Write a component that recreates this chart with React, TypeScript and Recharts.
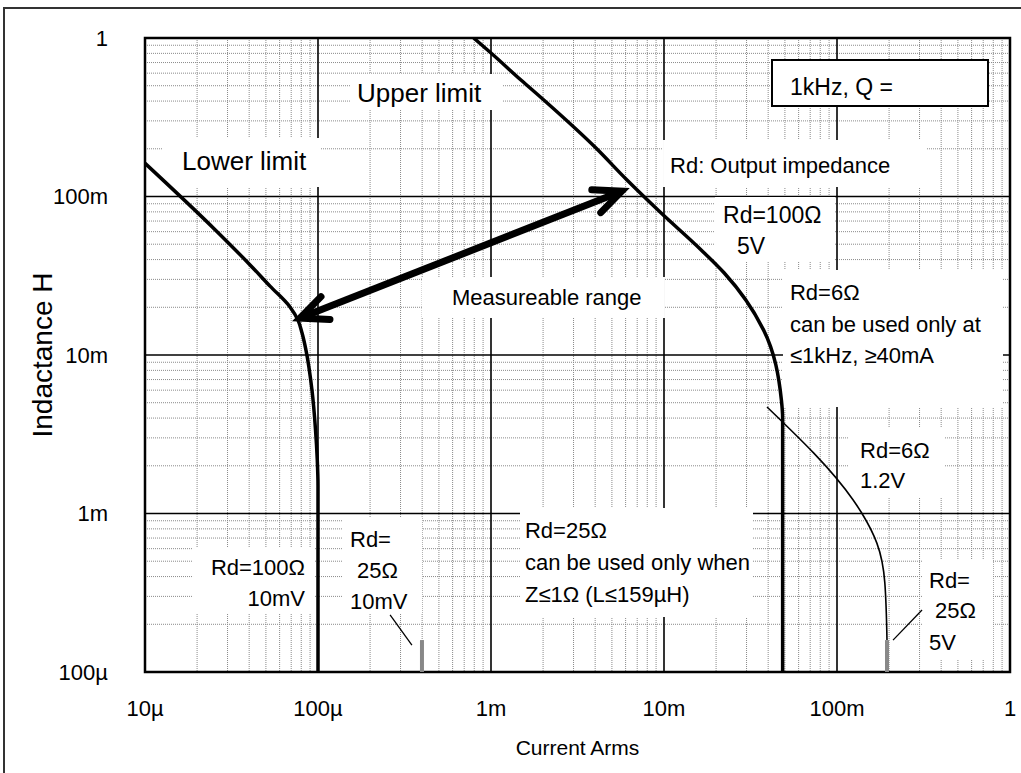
import React from "react";
import {
  ComposedChart,
  Line,
  XAxis,
  YAxis,
  CartesianGrid,
  ReferenceArea,
  ReferenceLine,
} from "recharts";

const FONT = "'Liberation Sans', Arial, sans-serif";

// axis decades and their labels
const xTicks = [1e-5, 1e-4, 1e-3, 1e-2, 1e-1, 1];
const xTickLabels = ["10µ", "100µ", "1m", "10m", "100m", "1"];
const yTicks = [1e-4, 1e-3, 1e-2, 1e-1, 1];
const yTickLabels = ["100µ", "1m", "10m", "100m", "1"];
const minorSteps = [2, 3, 4, 5, 6, 7, 8, 9];

// i = current (A), l = inductance (H)
const lowerLimit = [
  { i: 1e-5, l: 0.162 },
  { i: 2.55e-5, l: 0.0615 },
  { i: 4.05e-5, l: 0.037 },
  { i: 5.28e-5, l: 0.0272 },
  { i: 6.89e-5, l: 0.0201 },
  { i: 7.66e-5, l: 0.0166 },
  { i: 8.08e-5, l: 0.0138 },
  { i: 8.52e-5, l: 0.01075 },
  { i: 9.23e-5, l: 0.006 },
  { i: 9.67e-5, l: 0.0034 },
  { i: 9.9e-5, l: 0.0022 },
  { i: 1e-4, l: 0.0015 },
  { i: 1e-4, l: 1e-4 },
];

const upperLimit = [
  { i: 7.94e-4, l: 1 },
  { i: 1e-3, l: 0.804 },
  { i: 1.49e-3, l: 0.543 },
  { i: 2.02e-3, l: 0.406 },
  { i: 3.99e-3, l: 0.205 },
  { i: 6.11e-3, l: 0.127 },
  { i: 9.49e-3, l: 0.0798 },
  { i: 0.0164, l: 0.046 },
  { i: 0.0223, l: 0.0329 },
  { i: 0.0376, l: 0.0144 },
  { i: 0.0477, l: 0.0052 },
  { i: 0.0485, l: 0.004 },
  { i: 0.0485, l: 1e-4 },
];

const rd6Line = [
  { i: 0.0394, l: 4.7e-3 },
  { i: 0.1237, l: 1.22e-3 },
  { i: 0.1395, l: 1.0e-3 },
  { i: 0.17, l: 6.5e-4 },
  { i: 0.189, l: 3.65e-4 },
  { i: 0.1945, l: 1.59e-4 },
];

const rd25LowBar = [
  { i: 3.99e-4, l: 1.59e-4 },
  { i: 3.99e-4, l: 1e-4 },
];
const rd25HighBar = [
  { i: 0.1945, l: 1.59e-4 },
  { i: 0.1945, l: 1e-4 },
];
const leaderLeft = [
  { i: 2.61e-4, l: 2.29e-4 },
  { i: 3.49e-4, l: 1.48e-4 },
];
const leaderRight = [
  { i: 0.31, l: 2.46e-4 },
  { i: 0.2108, l: 1.59e-4 },
];

// double arrow "Measureable range"
const rangeArrow = [
  { i: 7.87e-5, l: 0.0171 },
  { i: 5.7e-3, l: 0.108 },
];

const xMinor = xTicks.slice(0, -1).flatMap((d) => minorSteps.map((m) => m * d));
const yMinor = yTicks.slice(0, -1).flatMap((d) => minorSteps.map((m) => m * d));

type TextLine = { text: string; dx: number; dy: number; anchor?: "start" | "end" | "middle" };
interface Note {
  x1: number;
  x2: number;
  y1: number;
  y2: number;
  size: number;
  border?: boolean;
  lines: TextLine[];
}

const notes: Note[] = [
  { x1: 1.531e-4, x2: 1.173e-3, y1: 0.3513, y2: 0.5927, size: 26, lines: [{ text: "Upper limit", dx: 7, dy: 28 }] },
  { x1: 1.271e-5, x2: 1.027e-4, y1: 0.1148, y2: 0.2339, size: 26, lines: [{ text: "Lower limit", dx: 19, dy: 32 }] },
  { x1: 9.87e-3, x2: 0.3313, y1: 0.1148, y2: 0.2272, size: 22, lines: [{ text: "Rd: Output impedance", dx: 7, dy: 33 }] },
  {
    x1: 0.01972, x2: 0.09737, y1: 0.03862, y2: 0.09927, size: 23,
    lines: [
      { text: "Rd=100Ω", dx: 8, dy: 26 },
      { text: "5V", dx: 22, dy: 57 },
    ],
  },
  { x1: 3.99e-4, x2: 1.013e-2, y1: 0.01712, y2: 0.03105, size: 22, lines: [{ text: "Measureable range", dx: 30, dy: 28 }] },
  {
    x1: 0.04873, x2: 0.911, y1: 4.697e-3, y2: 0.03438, size: 22,
    lines: [
      { text: "Rd=6Ω", dx: 7, dy: 30 },
      { text: "can be used only at", dx: 7, dy: 62 },
      { text: "≤1kHz, ≥40mA", dx: 7, dy: 93 },
    ],
  },
  {
    x1: 0.1158, x2: 0.421, y1: 1.271e-3, y2: 3.463e-3, size: 22,
    lines: [
      { text: "Rd=6Ω", dx: 12, dy: 30 },
      { text: "1.2V", dx: 12, dy: 60 },
    ],
  },
  {
    x1: 1.471e-3, x2: 0.03269, y1: 2.223e-4, y2: 1.083e-3, size: 22,
    lines: [
      { text: "Rd=25Ω", dx: 5, dy: 30 },
      { text: "can be used only when", dx: 5, dy: 62 },
      { text: "Z≤1Ω (L≤159µH)", dx: 5, dy: 94 },
    ],
  },
  {
    x1: 1.895e-5, x2: 9.61e-5, y1: 2.356e-4, y2: 6.145e-4, size: 22,
    lines: [
      { text: "Rd=100Ω", dx: 112, dy: 28, anchor: "end" },
      { text: "10mV", dx: 112, dy: 59, anchor: "end" },
    ],
  },
  {
    x1: 1.395e-4, x2: 3.99e-4, y1: 2.356e-4, y2: 9.367e-4, size: 22,
    lines: [
      { text: "Rd=", dx: 7, dy: 29 },
      { text: "25Ω", dx: 14, dy: 60 },
      { text: "10mV", dx: 7, dy: 91 },
    ],
  },
  {
    x1: 0.31, x2: 0.7975, y1: 1.19e-4, y2: 5.088e-4, size: 22,
    lines: [
      { text: "Rd=", dx: 7, dy: 28 },
      { text: "25Ω", dx: 13, dy: 58 },
      { text: "5V", dx: 7, dy: 90 },
    ],
  },
  { x1: 0.0421, x2: 0.7462, y1: 0.3724, y2: 0.7265, size: 23, border: true, lines: [{ text: "1kHz, Q =", dx: 18, dy: 35 }] },
];

const noteText = (note: Note) => (props: any) => {
  const vb = props.viewBox;
  if (!vb) return null;
  return (
    <g>
      {note.lines.map((ln, k) => (
        <text
          key={k}
          x={vb.x + ln.dx}
          y={vb.y + ln.dy}
          textAnchor={ln.anchor ?? "start"}
          fontSize={note.size}
          fontFamily={FONT}
          fill="#000"
        >
          {ln.text}
        </text>
      ))}
    </g>
  );
};

// shaft plus open arrow heads on both ends
const DoubleArrow = (props: any) => {
  const { x1, y1, x2, y2 } = props;
  if ([x1, y1, x2, y2].some((v) => v == null || isNaN(v))) return null;
  const a = Math.atan2(y2 - y1, x2 - x1);
  const len = 30;
  const sp = 0.42;
  const head = (x: number, y: number, ang: number) =>
    `M${x + len * Math.cos(ang + sp)},${y + len * Math.sin(ang + sp)} L${x},${y} L${x + len * Math.cos(ang - sp)},${y + len * Math.sin(ang - sp)}`;
  return (
    <g>
      <line x1={x1} y1={y1} x2={x2} y2={y2} stroke="#000" strokeWidth={7} />
      <path d={head(x1, y1, a)} fill="none" stroke="#000" strokeWidth={7} strokeLinecap="round" strokeLinejoin="miter" />
      <path d={head(x2, y2, a + Math.PI)} fill="none" stroke="#000" strokeWidth={7} strokeLinecap="round" strokeLinejoin="miter" />
    </g>
  );
};

export default function App() {
  return (
    <div style={{ position: "absolute", left: 0, top: 0, width: 1021, height: 773, overflow: "hidden", background: "#fff" }}>
      <div
        style={{
          position: "absolute",
          left: 3,
          top: 7,
          width: 1040,
          height: 800,
          border: "2px solid #333",
        }}
      />
      <div style={{ position: "absolute", left: 0, top: 0 }}>
        <ComposedChart
          width={1021}
          height={773}
          margin={{ top: 38, right: 11, left: 0, bottom: 0 }}
          style={{ fontFamily: FONT }}
        >
          <CartesianGrid
            horizontalValues={yMinor}
            verticalValues={xMinor}
            stroke="#8a8a8a"
            strokeDasharray="1 1"
            strokeWidth={1}
            syncWithTicks={false}
          />
          <CartesianGrid
            horizontalValues={yTicks}
            verticalValues={xTicks}
            stroke="#000"
            strokeWidth={1.6}
            syncWithTicks={false}
          />
          <XAxis
            dataKey="i"
            type="number"
            scale="log"
            domain={[1e-5, 1]}
            allowDataOverflow
            ticks={xTicks}
            tickFormatter={(v: number) => xTickLabels[xTicks.findIndex((t) => Math.abs(t - v) < t * 1e-6)] ?? ""}
            height={101}
            axisLine={false}
            tickLine={false}
            tickSize={0}
            tickMargin={28}
            interval={0}
            tick={{ fontSize: 22, fill: "#000", fontFamily: FONT }}
            label={{
              value: "Current Arms",
              position: "insideBottom",
              offset: 18,
              style: { fontSize: 21, fill: "#000", fontFamily: FONT },
            }}
          />
          <YAxis
            dataKey="l"
            type="number"
            scale="log"
            domain={[1e-4, 1]}
            allowDataOverflow
            ticks={yTicks}
            tickFormatter={(v: number) => yTickLabels[yTicks.findIndex((t) => Math.abs(t - v) < t * 1e-6)] ?? ""}
            width={145}
            axisLine={false}
            tickLine={false}
            tickSize={0}
            tickMargin={37}
            interval={0}
            tick={{ fontSize: 22, fill: "#000", fontFamily: FONT }}
            label={{
              value: "Indactance H",
              angle: -90,
              position: "insideLeft",
              offset: 42,
              style: { fontSize: 28, fill: "#000", fontFamily: FONT, textAnchor: "middle" },
            }}
          />
          {notes.map((n, k) => (
            <ReferenceArea
              key={k}
              x1={n.x1}
              x2={n.x2}
              y1={n.y1}
              y2={n.y2}
              fill="#fff"
              fillOpacity={1}
              stroke={n.border ? "#000" : "none"}
              strokeWidth={n.border ? 2 : 0}
              label={noteText(n)}
            />
          ))}
          <Line data={lowerLimit} dataKey="l" type="monotoneY" stroke="#000" strokeWidth={3.5} dot={false} isAnimationActive={false} />
          <Line data={upperLimit} dataKey="l" type="monotoneY" stroke="#000" strokeWidth={3.5} dot={false} isAnimationActive={false} />
          <Line data={rd6Line} dataKey="l" type="monotoneY" stroke="#000" strokeWidth={1.6} dot={false} isAnimationActive={false} />
          <Line data={rd25LowBar} dataKey="l" type="linear" stroke="#888" strokeWidth={4} dot={false} isAnimationActive={false} />
          <Line data={rd25HighBar} dataKey="l" type="linear" stroke="#888" strokeWidth={4} dot={false} isAnimationActive={false} />
          <Line data={leaderLeft} dataKey="l" type="linear" stroke="#000" strokeWidth={1.3} dot={false} isAnimationActive={false} />
          <Line data={leaderRight} dataKey="l" type="linear" stroke="#000" strokeWidth={1.3} dot={false} isAnimationActive={false} />
          <ReferenceLine
            segment={[
              { x: rangeArrow[0].i, y: rangeArrow[0].l },
              { x: rangeArrow[1].i, y: rangeArrow[1].l },
            ]}
            stroke="#000"
            shape={DoubleArrow}
          />
          <ReferenceArea x1={1e-5} x2={1} y1={1e-4} y2={1} fill="none" stroke="#000" strokeWidth={2.5} />
        </ComposedChart>
      </div>
    </div>
  );
}
